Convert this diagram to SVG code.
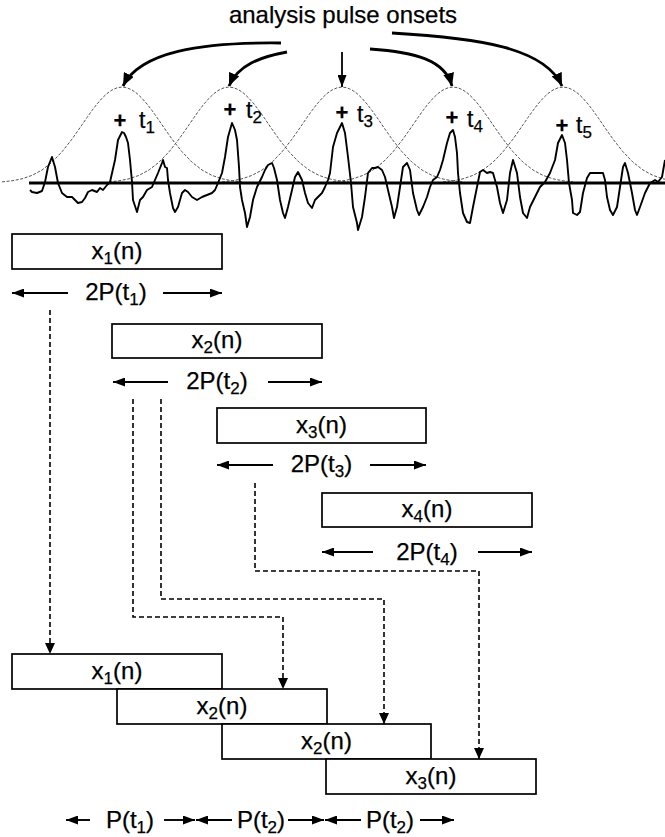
<svg xmlns="http://www.w3.org/2000/svg" xmlns:xlink="http://www.w3.org/1999/xlink" width="665" height="837" viewBox="0 0 665 837">
  <style>
    text { font-family: "Liberation Sans", Arial, Helvetica, sans-serif; fill: #000; stroke: #000; stroke-width: 0.25; }
    .lbl { font-size: 24px; text-anchor: middle; }
    .sub { font-size: 17px; }
    .tl { font-size: 23px; }
    .plus { font-size: 22px; font-weight: bold; text-anchor: middle; }
    .box { fill: #fff; stroke: #000; stroke-width: 1.7; }
    .bell { fill: none; stroke: #555; stroke-width: 1; stroke-dasharray: 3 1.6; }
    .wave { fill: none; stroke: #000; stroke-width: 1.9; stroke-linejoin: round; }
    .axis { stroke: #000; stroke-width: 3; }
    .onset { fill: none; stroke: #000; stroke-width: 2.8; }
    .dim { stroke: #000; stroke-width: 1.9; }
    .dash { fill: none; stroke: #000; stroke-width: 1.6; stroke-dasharray: 5 3; }
  </style>
  <defs>
    <marker id="headBig" markerUnits="userSpaceOnUse" markerWidth="14" markerHeight="11" refX="13" refY="5.5" orient="auto">
      <path d="M0,0 L13,5.5 L0,11 z" fill="#000"/>
    </marker>
    <marker id="headDim" markerUnits="userSpaceOnUse" markerWidth="12" markerHeight="9" refX="12" refY="4.5" orient="auto">
      <path d="M0,0 L12,4.5 L0,9 z" fill="#000"/>
    </marker>
    <marker id="headDash" markerUnits="userSpaceOnUse" markerWidth="11" markerHeight="10" refX="11" refY="5" orient="auto">
      <path d="M0,0 L11,5 L0,10 z" fill="#000"/>
    </marker>
    <!-- analysis window shape, centred on x = 0 -->
    <path id="bellShape" class="bell" d="M-120,181.9 L-110,180.8 L-100,178.8 L-90,175.4 L-80,170 L-70,162.2 L-60,151.8 L-50,139.1 L-45,132 L-40,124.8 L-35,117.5 L-30,110.5 L-25,104 L-20,98.3 L-15,93.5 L-10,90 L-5,87.8 L0,87 L5,87.8 L10,90 L15,93.5 L20,98.3 L25,104 L30,110.5 L35,117.5 L40,124.8 L45,132 L50,139.1 L60,151.8 L70,162.2 L80,170 L90,175.4 L100,178.8 L110,180.8 L120,181.9"/>
  </defs>

  <rect width="665" height="837" fill="#fff"/>

  <g id="title">
    <text x="343" y="23" font-size="24" text-anchor="middle">analysis pulse onsets</text>
  </g>

  <g id="windows">
    <use xlink:href="#bellShape" href="#bellShape" x="122"/>
    <use xlink:href="#bellShape" href="#bellShape" x="229"/>
    <use xlink:href="#bellShape" href="#bellShape" x="342"/>
    <use xlink:href="#bellShape" href="#bellShape" x="453"/>
    <use xlink:href="#bellShape" href="#bellShape" x="563"/>
  </g>

  <g id="signal">
    <line class="axis" x1="29" y1="183" x2="665" y2="183"/>
    <polyline class="wave" points="30,190 32,192 37,193 42,191 45,182 48,167 52,157 55,167 58,183 62,193 67,197 72,197 75,200 78,203 82,202 85,198 88,192 92,190 97,192 100,188 103,190 107,185 110,182 115,160 118,140 122,132 124,133 126,137 128,143 130,160 132,182 133,200 137,212 140,200 143,197 147,190 152,187 155,180 158,173 162,163 163,160 165,167 167,168 168,180 170,193 173,208 175,212 178,207 182,193 185,190 188,192 192,197 197,200 202,197 207,195 212,193 215,190 218,183 222,173 225,157 228,137 232,123 235,130 237,140 239,167 240,187 242,200 245,213 247,227 250,217 253,200 257,187 262,177 265,170 268,165 272,163 274,168 277,180 280,200 283,213 285,218 288,207 292,190 295,177 298,172 302,180 305,193 308,203 312,208 315,200 318,197 322,193 325,187 328,180 330,173 333,147 337,133 342,123 345,133 348,157 351,183 353,207 357,223 358,230 362,217 365,197 368,173 372,168 375,168 378,167 382,170 385,177 388,190 392,207 394,218 397,207 400,187 403,167 407,163 410,170 413,193 417,210 419,215 423,207 427,197 430,187 433,180 437,177 440,170 443,160 447,143 450,133 453,130 455,137 457,153 458,173 460,193 463,213 467,222 470,223 473,207 477,187 480,172 483,170 487,173 490,172 493,173 497,187 500,203 503,213 507,200 510,173 513,160 517,173 520,197 523,213 527,218 530,207 535,197 540,187 545,182 550,173 555,160 558,143 562,135 565,143 567,160 569,183 572,200 573,213 577,215 580,212 583,193 587,178 590,173 595,173 600,173 603,173 605,180 607,197 610,210 613,215 617,207 620,187 623,167 625,163 628,173 632,193 635,210 637,215 640,207 645,193 650,183 655,180 658,182 662,177 665,160"/>
  </g>

  <g id="onsets">
    <text class="plus" x="120" y="128">+</text>
    <text class="tl" x="139" y="128">t<tspan class="sub" dy="5">1</tspan></text>
    <text class="plus" x="230" y="117">+</text>
    <text class="tl" x="246" y="118">t<tspan class="sub" dy="5">2</tspan></text>
    <text class="plus" x="342" y="120">+</text>
    <text class="tl" x="357" y="122">t<tspan class="sub" dy="5">3</tspan></text>
    <text class="plus" x="452" y="125">+</text>
    <text class="tl" x="467" y="127">t<tspan class="sub" dy="5">4</tspan></text>
    <text class="plus" x="562" y="133">+</text>
    <text class="tl" x="576" y="133">t<tspan class="sub" dy="5">5</tspan></text>
  </g>

  <!-- analysis frames cut from the signal -->
  <g id="frame-x1">
    <rect class="box" x="12" y="234" width="210" height="35"/>
    <text class="lbl" x="117" y="259">x<tspan class="sub" dy="5">1</tspan><tspan dy="-5">(n)</tspan></text>
    <text class="lbl" x="116" y="300">2P(t<tspan class="sub" dy="5">1</tspan><tspan dy="-5">)</tspan></text>
  </g>
  <g id="frame-x2">
    <rect class="box" x="112" y="324" width="210" height="34"/>
    <text class="lbl" x="217" y="348">x<tspan class="sub" dy="5">2</tspan><tspan dy="-5">(n)</tspan></text>
    <text class="lbl" x="217" y="389">2P(t<tspan class="sub" dy="5">2</tspan><tspan dy="-5">)</tspan></text>
  </g>
  <g id="frame-x3">
    <rect class="box" x="217" y="408" width="209" height="35"/>
    <text class="lbl" x="321.5" y="433">x<tspan class="sub" dy="5">3</tspan><tspan dy="-5">(n)</tspan></text>
    <text class="lbl" x="321.5" y="472">2P(t<tspan class="sub" dy="5">3</tspan><tspan dy="-5">)</tspan></text>
  </g>
  <g id="frame-x4">
    <rect class="box" x="322" y="493" width="210" height="34"/>
    <text class="lbl" x="427" y="517">x<tspan class="sub" dy="5">4</tspan><tspan dy="-5">(n)</tspan></text>
    <text class="lbl" x="427" y="560">2P(t<tspan class="sub" dy="5">4</tspan><tspan dy="-5">)</tspan></text>
  </g>

  <!-- overlap-added output frames -->
  <g id="out-x1">
    <rect class="box" x="12" y="654" width="210" height="35"/>
    <text class="lbl" x="117" y="679">x<tspan class="sub" dy="5">1</tspan><tspan dy="-5">(n)</tspan></text>
  </g>
  <g id="out-x2">
    <rect class="box" x="117" y="689" width="210" height="35"/>
    <text class="lbl" x="222" y="714">x<tspan class="sub" dy="5">2</tspan><tspan dy="-5">(n)</tspan></text>
  </g>
  <g id="out-x2b">
    <rect class="box" x="222" y="724" width="209" height="35"/>
    <text class="lbl" x="326.5" y="749">x<tspan class="sub" dy="5">2</tspan><tspan dy="-5">(n)</tspan></text>
  </g>
  <g id="out-x3">
    <rect class="box" x="326" y="759" width="210" height="35"/>
    <text class="lbl" x="431" y="784">x<tspan class="sub" dy="5">3</tspan><tspan dy="-5">(n)</tspan></text>
  </g>

  <g id="periods">
    <text class="lbl" x="130" y="828">P(t<tspan class="sub" dy="5">1</tspan><tspan dy="-5">)</tspan></text>
    <text class="lbl" x="261" y="828">P(t<tspan class="sub" dy="5">2</tspan><tspan dy="-5">)</tspan></text>
    <text class="lbl" x="390" y="828">P(t<tspan class="sub" dy="5">2</tspan><tspan dy="-5">)</tspan></text>
  </g>

  <g id="connectors">
    <!-- pulse onset pointers -->
    <path class="onset" d="M281,43 C200,42 140,52 123,86" marker-end="url(#headBig)"/>
    <path class="onset" d="M287,52 C260,57 238,65 229,86" marker-end="url(#headBig)"/>
    <line x1="342" y1="52" x2="342" y2="87" stroke="#000" stroke-width="1.8" marker-end="url(#headDim)"/>
    <path class="onset" d="M370,49 C415,52 445,60 452,86" marker-end="url(#headBig)"/>
    <path class="onset" d="M392,33 C480,38 545,48 562,86" marker-end="url(#headBig)"/>

    <!-- frame length markers -->
    <line class="dim" x1="68" y1="293" x2="12" y2="293" marker-end="url(#headDim)"/>
    <line class="dim" x1="163" y1="293" x2="222" y2="293" marker-end="url(#headDim)"/>
    <line class="dim" x1="168" y1="382" x2="113" y2="382" marker-end="url(#headDim)"/>
    <line class="dim" x1="268" y1="382" x2="322" y2="382" marker-end="url(#headDim)"/>
    <line class="dim" x1="273" y1="465" x2="217" y2="465" marker-end="url(#headDim)"/>
    <line class="dim" x1="370" y1="465" x2="426" y2="465" marker-end="url(#headDim)"/>
    <line class="dim" x1="373" y1="552" x2="322" y2="552" marker-end="url(#headDim)"/>
    <line class="dim" x1="478" y1="552" x2="532" y2="552" marker-end="url(#headDim)"/>

    <!-- frame relocation paths -->
    <path class="dash" d="M50,310 V654" marker-end="url(#headDash)"/>
    <path class="dash" d="M133,399 V617 H283 V689" marker-end="url(#headDash)"/>
    <path class="dash" d="M161,399 V599 H384 V724" marker-end="url(#headDash)"/>
    <path class="dash" d="M255,483 V571 H479 V759" marker-end="url(#headDash)"/>

    <!-- period markers -->
    <line class="dim" x1="90" y1="820" x2="66" y2="820" marker-end="url(#headDim)"/>
    <line class="dim" x1="164" y1="820" x2="195" y2="820" marker-end="url(#headDim)"/>
    <line class="dim" x1="232" y1="820" x2="196" y2="820" marker-end="url(#headDim)"/>
    <line class="dim" x1="288" y1="820" x2="324" y2="820" marker-end="url(#headDim)"/>
    <line class="dim" x1="361" y1="820" x2="325" y2="820" marker-end="url(#headDim)"/>
    <line class="dim" x1="420" y1="820" x2="454" y2="820" marker-end="url(#headDim)"/>
  </g>
</svg>
